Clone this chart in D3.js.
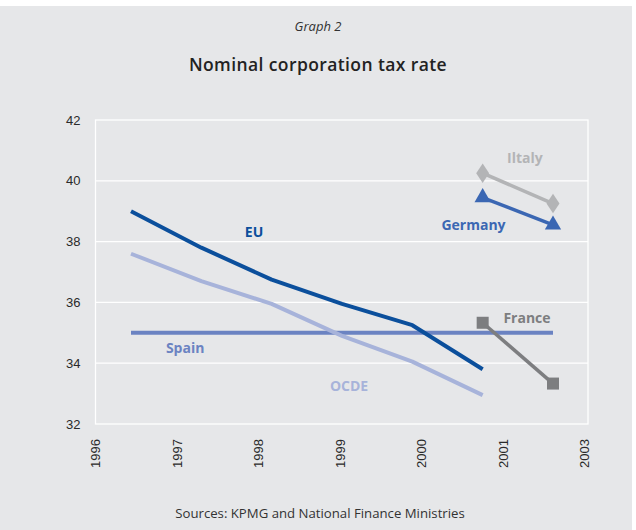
<!DOCTYPE html>
<html>
<head>
<meta charset="utf-8">
<script src="https://cdn.jsdelivr.net/npm/d3@7"></script>
<style>
  html, body { margin: 0; padding: 0; background: #ffffff; }
  svg { display: block; }
</style>
</head>
<body>
<svg id="chart" width="636" height="530"></svg>
<script>
// Nominal corporation tax rate, %, by year
const years = [1996, 1997, 1998, 1999, 2000, 2001, 2002];
const tickLabels = ["1996", "1997", "1998", "1999", "2000", "2001", "2003"];
const yTicks = [32, 34, 36, 38, 40, 42];

const euValues     = [39.0, 37.8, 36.75, 35.95, 35.25, 33.8];
const ocdeValues   = [37.6, 36.7, 35.95, 34.9, 34.05, 32.95];
const spainValues  = [35, 35, 35, 35, 35, 35, 35];
const franceValues = [35.33, 33.33];
const italyValues  = [40.25, 39.25];
const germanyValues = [39.45, 38.55];

const W = 636, H = 530;
const plot = { left: 95.5, right: 588, top: 120, bottom: 424 };

const svg = d3.select("#chart");

// page background
svg.append("rect").attr("x", 0).attr("y", 6).attr("width", W - 4).attr("height", H - 6)
  .attr("fill", "#e6e7e9");

// titles
svg.append("text").attr("x", 318).attr("y", 31).attr("text-anchor", "middle")
  .attr("font-family", "Open Sans, sans-serif").attr("font-style", "italic")
  .attr("font-size", 13).attr("fill", "#333").text("Graph 2");
svg.append("text").attr("x", 318).attr("y", 71).attr("text-anchor", "middle")
  .attr("font-family", "Open Sans, sans-serif").attr("font-weight", 600)
  .attr("font-size", 17.5).attr("letter-spacing", 0.4).attr("fill", "#222")
  .text("Nominal corporation tax rate");

// scales
const y = d3.scaleLinear().domain([32, 42]).range([plot.bottom, plot.top]);
const xAxisScale = d3.scalePoint().domain(tickLabels).range([95, 584]);
const x = d3.scalePoint().domain(years).range([131, 553]);

// grid lines
svg.append("g").selectAll("line").data(yTicks.slice(1, -1)).join("line")
  .attr("x1", plot.left).attr("x2", plot.right)
  .attr("y1", d => y(d)).attr("y2", d => y(d))
  .attr("stroke", "#ffffff").attr("stroke-width", 1.3);

// plot frame
svg.append("rect").attr("x", plot.left).attr("y", plot.top)
  .attr("width", plot.right - plot.left).attr("height", plot.bottom - plot.top)
  .attr("fill", "none").attr("stroke", "#ffffff").attr("stroke-width", 1.3);

// y axis labels
const yAxis = d3.axisLeft(y).tickValues(yTicks).tickSize(0).tickPadding(15);
const gy = svg.append("g").attr("transform", `translate(${plot.left},0)`).call(yAxis);
gy.select(".domain").remove();
gy.selectAll("text").attr("font-family", "Liberation Sans, Arial, sans-serif")
  .attr("font-size", 13).attr("fill", "#2a2a2a");

// x axis labels (rotated)
const xAxis = d3.axisBottom(xAxisScale).tickSize(0);
const gx = svg.append("g").attr("transform", `translate(0,${plot.bottom})`).call(xAxis);
gx.select(".domain").remove();
gx.selectAll("text")
  .attr("font-family", "Liberation Sans, Arial, sans-serif")
  .attr("font-size", 13).attr("fill", "#2a2a2a")
  .attr("transform", "rotate(-90)")
  .attr("text-anchor", "end")
  .attr("x", -15).attr("y", 0).attr("dy", "0.35em");

const line = d3.line().x(d => x(d[0])).y(d => y(d[1]));
function series(vals, startIdx) {
  return vals.map((v, i) => [years[startIdx + i], v]);
}

const lines = [
  { data: series(spainValues, 0), color: "#6b83c2", width: 4 },
  { data: series(ocdeValues, 0), color: "#a7b3da", width: 4 },
  { data: series(euValues, 0), color: "#0b4f9c", width: 4 },
  { data: series(franceValues, 5), color: "#7d7e80", width: 3.5 },
  { data: series(italyValues, 5), color: "#b3b4b6", width: 3.5 },
  { data: series(germanyValues, 5), color: "#3b67b3", width: 3.5 }
];
lines.forEach(s => {
  svg.append("path").datum(s.data).attr("d", line)
    .attr("fill", "none").attr("stroke", s.color).attr("stroke-width", s.width)
    .attr("stroke-linejoin", "round");
});

// markers
const mk = svg.append("g");
mk.selectAll(".fr").data(series(franceValues, 5)).join("rect")
  .attr("x", d => x(d[0]) - 6).attr("y", d => y(d[1]) - 6)
  .attr("width", 12).attr("height", 12).attr("fill", "#7d7e80");
mk.selectAll(".it").data(series(italyValues, 5)).join("path")
  .attr("d", d3.symbol(d3.symbolDiamond, 110))
  .attr("transform", d => `translate(${x(d[0])},${y(d[1])}) scale(1.15,1)`)
  .attr("fill", "#b3b4b6");
mk.selectAll(".de").data(series(germanyValues, 5)).join("path")
  .attr("d", d3.symbol(d3.symbolTriangle, 115))
  .attr("transform", d => `translate(${x(d[0])},${y(d[1])})`)
  .attr("fill", "#3b67b3");

// series labels
const labels = [
  { text: "EU", year: 1997.75, value: 38.3, color: "#0b4f9c" },
  { text: "Spain", year: 1996.77, value: 34.5, color: "#6b83c2" },
  { text: "OCDE", year: 1999.1, value: 33.25, color: "#a7b3da" },
  { text: "France", year: 2001.63, value: 35.5, color: "#7d7e80" },
  { text: "Germany", year: 2000.87, value: 38.55, color: "#3b67b3" },
  { text: "Iltaly", year: 2001.6, value: 40.75, color: "#b3b4b6" }
];
const xc = d3.scaleLinear().domain([1996, 2002]).range([131, 553]);
svg.append("g").selectAll("text").data(labels).join("text")
  .attr("x", d => xc(d.year)).attr("y", d => y(d.value))
  .attr("text-anchor", "middle").attr("dy", "0.35em")
  .attr("font-family", "Open Sans, sans-serif").attr("font-weight", 700)
  .attr("font-size", 14).attr("fill", d => d.color)
  .text(d => d.text);

// source note
svg.append("text").attr("x", 320).attr("y", 518).attr("text-anchor", "middle")
  .attr("font-family", "Open Sans, sans-serif").attr("font-size", 13.2)
  .attr("fill", "#333").text("Sources: KPMG and National Finance Ministries");
</script>
</body>
</html>
